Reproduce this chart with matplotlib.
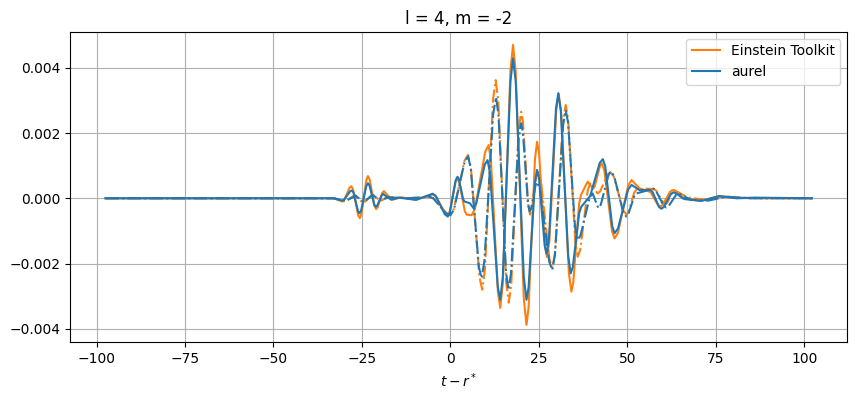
import matplotlib
matplotlib.use("Agg")
from matplotlib import pyplot as plt
import numpy as np

# values, in units of 1e-3
# Einstein Toolkit, real part (solid)
et_re_t = [-97.5, -33, -31.75, -30.5, -30.0, -29.25, -28.5, -28.0, -27.52, -26.8, -26.08, -25.6,
           -25.14, -24.45, -23.76, -23.3, -22.84, -22.15, -21.46, -21.0, -20.56, -19.9, -19.24,
           -18.8, -17.65, -16.5, -14, -9.7, -5.0, -4.14, -2.85, -1.56, -0.7, -0.16, 0.65, 1.46,
           2.0, 2.52, 3.3, 4.08, 4.6, 6.0, 6.96, 8.4, 9.84, 10.8, 11.46, 12.45, 13.44, 14.1,
           14.82, 15.9, 16.98, 17.7, 18.46, 19.6, 20.74, 21.5, 22.1, 23.0, 23.9, 24.5, 25.06,
           25.9, 26.74, 27.3, 27.96, 28.95, 29.94, 30.6, 31.32, 32.4, 33.48, 34.2, 34.74, 35.55,
           36.36, 36.9, 37.85, 38.8, 39.55, 40.3, 40.8, 41.55, 42.3, 42.8, 43.52, 44.6, 45.68,
           46.4, 47.36, 48.8, 50.24, 51.2, 52.35, 53.5, 54.75, 56.0, 56.66, 57.65, 58.64, 59.3,
           60.0, 61.05, 62.1, 62.8, 63.54, 64.65, 65.76, 66.5, 70.5, 76, 81, 102.2]
et_re_v = [0, 0, -0.05, -0.1, -0.055, 0.135, 0.325, 0.37, 0.276, -0.12, -0.516, -0.61,
           -0.487, 0.035, 0.557, 0.68, 0.584, 0.175, -0.234, -0.33, -0.277, -0.055, 0.167,
           0.22, 0.085, -0.05, 0.03, -0.04, 0.12, 0.061, -0.19, -0.441, -0.5, -0.395, 0.05, 0.495,
           0.6, 0.495, 0.05, -0.395, -0.5, -0.52, -0.315, 0.555, 1.425, 1.63, 1.153, -0.865, -2.883, -3.36,
           -2.59, 0.67, 3.93, 4.7, 3.881, 0.41, -3.061, -3.88, -3.344, -1.075, 1.194, 1.73, 1.393,
           -0.035, -1.463, -1.8, -1.322, 0.7, 2.723, 3.2, 2.621, 0.17, -2.281, -2.86, -2.577, -1.38,
           -0.183, 0.1, 0.305, 0.51, 0.405, 0.3, 0.374, 0.685, 0.996, 1.07, 0.85, -0.08, -1.01,
           -1.23, -1.059, -0.335, 0.389, 0.56, 0.43, 0.3, 0.26, 0.22, 0.175, -0.015, -0.205, -0.25,
           -0.202, 0.0, 0.202, 0.25, 0.226, 0.125, 0.024, 0.0, -0.08, 0.06, 0.01, 0]

# Einstein Toolkit, imaginary part (dash-dot)
et_im_t = [-97.5, -33, -29.8, -27.0, -24.6, -22.0, -19.8, -17.5, -12, -6, -4.8, -3.0, -1.2,
           0.0, 1.0, 2.5, 4.0, 5.0, 5.8, 7.0, 8.2, 9.0, 9.76, 10.9, 12.04, 12.8, 13.54, 14.65,
           15.76, 16.5, 17.2, 18.25, 19.3, 20.0, 20.5, 21.25, 22.0, 22.5, 22.96, 23.65, 24.34,
           24.8, 25.6, 26.8, 28.0, 28.8, 29.56, 30.7, 31.84, 32.6, 33.28, 34.3, 35.32, 36.0,
           36.7, 37.75, 38.8, 39.5, 40.55, 41.6, 42.32, 43.4, 44.48, 45.2, 46.12, 47.5, 48.88,
           49.8, 50.34, 51.15, 51.96, 52.5, 54.5, 57.5, 58.16, 59.15, 60.14, 60.8, 61.3, 62.05,
           62.8, 63.3, 65.15, 67, 72, 77, 85, 102.2]
et_im_v = [0, 0, -0.1, 0.1, -0.15, 0.12, -0.08, 0.04, 0, 0.05, -0.003, -0.225, -0.447,
           -0.5, -0.325, 0.415, 1.155, 1.33, 0.936, -0.735, -2.406, -2.8, -2.187, 0.41, 3.007, 3.62, 2.969, 0.21,
           -2.549, -3.2, -2.641, -0.275, 2.091, 2.65, 2.349, 1.075, -0.199, -0.5, -0.376, 0.15, 0.676,
           0.8, 0.518, -0.675, -1.868, -2.15, -1.672, 0.355, 2.382, 2.86, 2.416, 0.535, -1.346, -1.79,
           -1.576, -0.67, 0.236, 0.45, 0.3, 0.15, 0.212, 0.475, 0.738, 0.8, 0.676, 0.15, -0.376,
           -0.5, -0.428, -0.125, 0.178, 0.25, 0.3, 0.28, 0.236, 0.05, -0.136, -0.18, -0.139, 0.035,
           0.209, 0.25, 0.14, 0.03, -0.05, 0.05, 0, 0]

# aurel, real part (solid)
au_re_t = [-97.5, -33, -30.6, -30.04, -29.2, -28.36, -27.8, -27.38, -26.75, -26.12, -25.7,
           -25.22, -24.5, -23.78, -23.3, -22.86, -22.2, -21.54, -21.1, -20.68, -20.05, -19.42,
           -19.0, -17.9, -16.8, -14.5, -9.7, -5.0, -4.14, -2.85, -1.56, -0.7, -0.16, 0.65, 1.46,
           2.0, 2.4, 3.0, 3.6, 4.0, 5.5, 6.5, 7.3, 8.5, 9.7, 10.5, 11.22, 12.3, 13.38, 14.1,
           14.82, 15.9, 16.98, 17.7, 18.46, 19.6, 20.74, 21.5, 22.1, 23.0, 23.9, 24.5, 25.04,
           25.85, 26.66, 27.2, 27.86, 28.85, 29.84, 30.5, 31.2, 32.25, 33.3, 34.0, 34.6, 35.5,
           36.4, 37.0, 37.8, 38.6, 39.5, 40.85, 42.2, 43.1, 43.76, 44.75, 45.74, 46.4, 47.36,
           48.8, 50.24, 51.2, 52.35, 53.5, 56.5, 57.12, 58.05, 58.98, 59.6, 60.28, 61.3, 62.32,
           63.0, 63.7, 64.75, 65.8, 66.5, 71, 76, 81, 86, 102.2]
au_re_v = [0, 0, -0.07, -0.04, 0.085, 0.21, 0.24, 0.173, -0.11, -0.393, -0.46,
           -0.372, 0.0, 0.372, 0.46, 0.391, 0.1, -0.191, -0.26, -0.223, -0.065, 0.093,
           0.13, 0.045, -0.04, 0.02, -0.05, 0.14, 0.073, -0.21, -0.493, -0.56, -0.443, 0.05, 0.543,
           0.66, 0.587, 0.28, -0.027, -0.1, -0.15, -0.3, -0.16, 0.435, 1.03, 1.17, 0.761, -0.97, -2.701, -3.11,
           -2.403, 0.59, 3.583, 4.29, 3.583, 0.59, -2.403, -3.11, -2.73, -1.12, 0.49, 0.87, 0.625,
           -0.415, -1.455, -1.7, -1.23, 0.76, 2.75, 3.22, 2.693, 0.46, -1.773, -2.3, -2.105, -1.28,
           -0.455, -0.26, -0.155, -0.05, 0.069, 0.575, 1.081, 1.2, 0.983, 0.065, -0.853, -1.07, -0.929,
           -0.33, 0.269, 0.41, 0.33, 0.25, 0.25, 0.196, -0.035, -0.266, -0.32, -0.272, -0.07, 0.132,
           0.18, 0.16, 0.075, -0.01, -0.03, -0.08, 0.07, 0, 0.02, 0]

# aurel, imaginary part (dash-dot)
au_im_t = [-97.5, -33, -29.5, -26.8, -24.5, -22.0, -19.8, -17.5, -12, -6, -4.8, -3.0, -1.2,
           0.0, 1.0, 2.5, 4.0, 5.0, 5.76, 6.9, 8.04, 8.8, 9.62, 10.85, 12.08, 12.9, 13.6, 14.65,
           15.7, 16.4, 17.12, 18.2, 19.28, 20.0, 20.48, 21.2, 21.92, 22.4, 22.82, 23.45, 24.08,
           24.5, 25.36, 26.65, 27.94, 28.8, 29.56, 30.7, 31.84, 32.6, 33.26, 34.25, 35.24, 35.9,
           36.76, 38.05, 39.34, 40.2, 41.0, 41.8, 42.52, 43.6, 44.68, 45.4, 46.26, 47.55, 48.84,
           49.7, 50.28, 51.15, 52.02, 52.6, 55.0, 57.3, 58.04, 59.15, 60.26, 61.0, 61.7, 62.75,
           63.8, 64.5, 66.25, 68, 73, 78, 85, 102.2]
au_im_v = [0, 0, -0.08, 0.08, -0.12, 0.1, -0.06, 0.03, 0, 0.05, -0.004, -0.235, -0.466,
           -0.52, -0.348, 0.38, 1.108, 1.28, 0.924, -0.585, -2.094, -2.45, -1.92, 0.325, 2.57, 3.1, 2.537, 0.15,
           -2.237, -2.8, -2.313, -0.25, 1.813, 2.3, 2.042, 0.95, -0.142, -0.4, -0.314, 0.05, 0.414,
           0.5, 0.242, -0.85, -1.942, -2.2, -1.732, 0.25, 2.232, 2.7, 2.32, 0.71, -0.9, -1.28,
           -1.143, -0.565, 0.013, 0.15, -0.075, -0.3, -0.193, 0.26, 0.713, 0.82, 0.688, 0.13, -0.428,
           -0.56, -0.492, -0.205, 0.082, 0.15, 0.22, 0.3, 0.245, 0.01, -0.225, -0.28, -0.239, -0.065,
           0.109, 0.15, 0.05, -0.05, -0.07, 0.05, 0, 0]

scale = 1e-3

fig, ax = plt.subplots(figsize=(8.55, 3.98), dpi=100)
fig.subplots_adjust(left=0.082, right=0.991, bottom=0.141, top=0.92)

ax.plot(et_re_t, np.array(et_re_v) * scale, color='C1', label='Einstein Toolkit')
ax.plot(et_im_t, np.array(et_im_v) * scale, color='C1', linestyle='-.')
ax.plot(au_re_t, np.array(au_re_v) * scale, color='C0', label='aurel')
ax.plot(au_im_t, np.array(au_im_v) * scale, color='C0', linestyle='-.')

ax.set_ylim(-4.4e-3, 5.1e-3)
ax.set_title('l = 4, m = -2')
ax.set_xlabel(r'$t - r^*$')
ax.grid(True)
ax.legend(loc='upper right')

plt.savefig('out.png', dpi=100)
